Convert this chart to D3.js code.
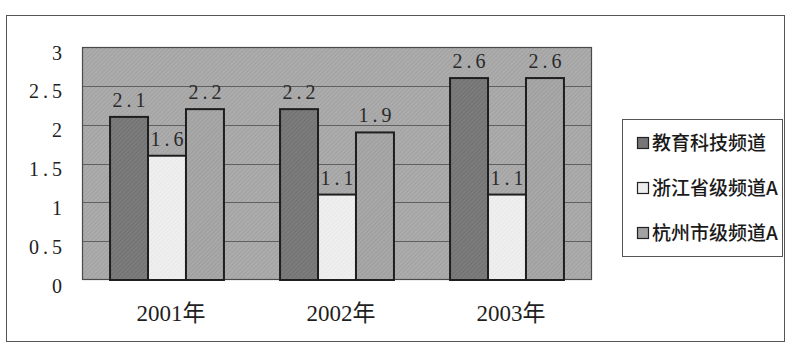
<!DOCTYPE html>
<html>
<head>
<meta charset="utf-8">
<script src="https://cdn.jsdelivr.net/npm/d3@7"></script>
<style>
  html, body { margin: 0; padding: 0; background: #fff; }
  svg { display: block; }
  .num { font-family: "Liberation Serif", "Times New Roman", serif; }
  .cat { font-family: "Liberation Serif", "Noto Sans CJK SC", serif; }
  .leg { font-family: "Noto Sans CJK SC", sans-serif; }
</style>
</head>
<body>
<svg id="chart" width="787" height="344"></svg>
<script>
// Audience share by channel, 2001–2003
const years = ["2001年", "2002年", "2003年"];
const seriesNames = ["教育科技频道", "浙江省级频道A", "杭州市级频道A"];
const eduTech = [2.1, 2.2, 2.6];
const zjProvA = [1.6, 1.1, 1.1];
const hzCityA = [2.2, 1.9, 2.6];
const yTicks = [0, 0.5, 1, 1.5, 2, 2.5, 3];
const yTickLabels = ["0", "0.5", "1", "1.5", "2", "2.5", "3"];

const seriesValues = [eduTech, zjProvA, hzCityA];
const seriesFill = ["url(#hatchDark)", "url(#hatchLight)", "url(#hatchMid)"];
const swatchFill = ["#767676", "#eeeeee", "#a2a2a2"];

const svg = d3.select("#chart");
const plot = { left: 82, right: 592, top: 47, bottom: 280 };

// diagonal hatch textures
const defs = svg.append("defs");
function hatch(id, base, line) {
  const p = defs.append("pattern")
    .attr("id", id).attr("patternUnits", "userSpaceOnUse")
    .attr("width", 3).attr("height", 3)
    .attr("patternTransform", "rotate(45)");
  p.append("rect").attr("width", 3).attr("height", 3).attr("fill", base);
  p.append("line").attr("x1", 0).attr("y1", 0).attr("x2", 0).attr("y2", 3)
    .attr("stroke", line).attr("stroke-width", 1.2);
}
hatch("hatchBg", "#acacac", "#9a9a9a");
hatch("hatchDark", "#7c7c7c", "#6a6a6a");
hatch("hatchLight", "#efefef", "#e4e4e4");
hatch("hatchMid", "#a8a8a8", "#959595");

// outer frame
svg.append("rect")
  .attr("x", 6.5).attr("y", 15.5).attr("width", 778).attr("height", 326)
  .attr("fill", "#fff").attr("stroke", "#555").attr("stroke-width", 1);

const x0 = d3.scaleBand().domain(years)
  .range([plot.left, plot.right]).paddingInner(0.33).paddingOuter(0.165);
const x1 = d3.scaleBand().domain(d3.range(seriesNames.length))
  .range([0, x0.bandwidth()]).padding(0);
const y = d3.scaleLinear().domain([0, 3]).range([plot.bottom, plot.top]);

// plot area
svg.append("rect")
  .attr("x", plot.left).attr("y", plot.top)
  .attr("width", plot.right - plot.left).attr("height", plot.bottom - plot.top)
  .attr("fill", "url(#hatchBg)");

// gridlines
svg.append("g").selectAll("line")
  .data(yTicks.filter(v => v > 0 && v < 3))
  .join("line")
  .attr("x1", plot.left).attr("x2", plot.right)
  .attr("y1", d => Math.round(y(d)) + 0.5).attr("y2", d => Math.round(y(d)) + 0.5)
  .attr("stroke", "#606060").attr("stroke-width", 1);

// plot border
svg.append("rect")
  .attr("x", plot.left + 0.5).attr("y", plot.top + 0.5)
  .attr("width", plot.right - plot.left - 1).attr("height", plot.bottom - plot.top - 1)
  .attr("fill", "none").attr("stroke", "#4a4a4a").attr("stroke-width", 1.2);

// bars
const groups = svg.append("g").selectAll("g")
  .data(years).join("g")
  .attr("transform", d => `translate(${x0(d)},0)`);

groups.selectAll("rect")
  .data((d, i) => seriesValues.map((vals, s) => ({ s, v: vals[i] })))
  .join("rect")
  .attr("x", d => x1(d.s))
  .attr("y", d => y(d.v))
  .attr("width", x1.bandwidth())
  .attr("height", d => y(0) - y(d.v))
  .attr("fill", d => seriesFill[d.s])
  .attr("stroke", "#1e1e1e").attr("stroke-width", 2);

// value labels
const LS = 4;
groups.selectAll("text")
  .data((d, i) => seriesValues.map((vals, s) => ({ s, v: vals[i] })))
  .join("text")
  .attr("class", "num")
  .attr("x", d => x1(d.s) + x1.bandwidth() / 2 + LS / 2)
  .attr("y", d => y(d.v) - 10)
  .attr("text-anchor", "middle")
  .attr("font-family", null)
  .style("font-size", "20px")
  .style("letter-spacing", LS + "px")
  .attr("fill", "#2a2a2a")
  .text(d => d.v.toFixed(1));

// y axis labels
const yAxis = d3.axisLeft(y).tickValues(yTicks)
  .tickFormat((d, i) => yTickLabels[i]).tickSize(0).tickPadding(0);
const yg = svg.append("g").attr("transform", `translate(${62 + LS},0)`).call(yAxis)
  .attr("font-family", null).attr("font-size", null);
yg.select(".domain").remove();
yg.selectAll("text")
  .attr("class", "num")
  .attr("dy", "0.85em").attr("y", -5)
  .style("font-size", "20px")
  .style("letter-spacing", LS + "px")
  .attr("fill", "#222");

// x axis labels
const xAxis = d3.axisBottom(x0).tickSize(0).tickPadding(0);
const xg = svg.append("g").attr("transform", `translate(4,${plot.bottom})`).call(xAxis)
  .attr("font-family", null).attr("font-size", null);
xg.select(".domain").remove();
xg.selectAll("text")
  .attr("class", "cat")
  .attr("y", 41).attr("dy", 0)
  .style("font-size", "23px")
  .attr("fill", "#1e1e1e");

// legend
const lg = svg.append("g");
lg.append("rect")
  .attr("x", 622.5).attr("y", 119.5).attr("width", 160).attr("height", 137)
  .attr("fill", "#fff").attr("stroke", "#555").attr("stroke-width", 1);
const items = lg.selectAll("g.item").data(seriesNames).join("g")
  .attr("class", "item")
  .attr("transform", (d, i) => `translate(637,${143 + i * 45})`);
items.append("rect")
  .attr("x", 0.5).attr("y", -5.5).attr("width", 11).attr("height", 11)
  .attr("fill", (d, i) => swatchFill[i])
  .attr("stroke", "#222").attr("stroke-width", 1.2);
items.append("text")
  .attr("class", "leg")
  .attr("x", 15).attr("y", 0).attr("dy", "0.36em")
  .style("font-size", "19px")
  .style("font-weight", 500)
  .attr("fill", "#1a1a1a")
  .text(d => d);
</script>
</body>
</html>
